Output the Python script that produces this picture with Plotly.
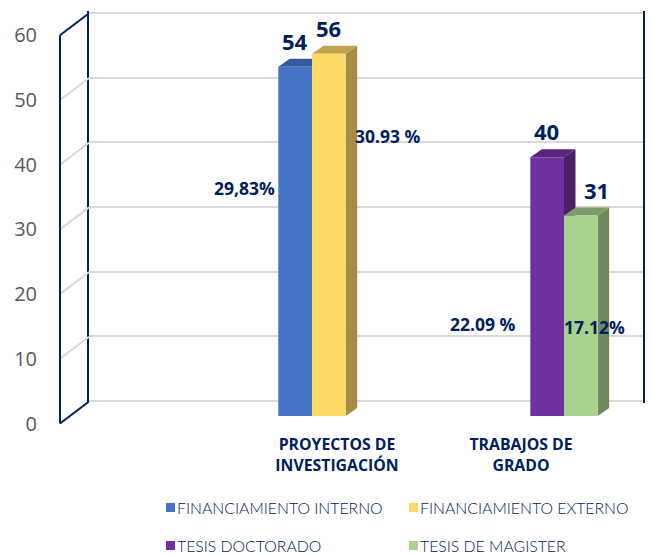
import plotly.graph_objects as go

categories = ["PROYECTOS DE<br>INVESTIGACIÓN", "TRABAJOS DE<br>GRADO"]
series_names = ["FINANCIAMIENTO INTERNO", "FINANCIAMIENTO EXTERNO", "TESIS DOCTORADO", "TESIS DE MAGISTER"]
series_values = [54, 56, 40, 31]
series_groups = [1, 1, 2, 2]
series_sides = [-1, 1, -1, 1]
percent_labels = ["29,83%", "30.93 %", "22.09 %", "17.12%"]
y_ticks = [0, 10, 20, 30, 40, 50, 60]

W, H = 652, 556
NAVY = "#002060"
FRONT = ["#4472C4", "#FFD966", "#7030A0", "#A9D18E"]
TOP = ["#365A9C", "#BFA34F", "#56267C", "#7F9D6B"]
SIDE = ["#2F4F87", "#A58D45", "#4A2068", "#6F8A5D"]

PX_PER_UNIT = 6.47
BAR_W = 33.7 / 252
DEPTH_X = 11.5 / 252
DEPTH_Y = 8 / PX_PER_UNIT
WALL_SHIFT = 22 / PX_PER_UNIT


def ydom(bottom, top):
    return [1 - bottom / H, 1 - top / H]


def pos(px, py):
    return dict(xref="paper", yref="paper", x=px / W, y=1 - py / H)


fig = go.Figure()

# empty trace so the back wall subplot gets drawn
fig.add_trace(go.Scatter(x=[0] * len(y_ticks), y=y_ticks, mode="none", showlegend=False,
                         hoverinfo="skip", xaxis="x", yaxis="y"))

# connectors between the back wall and the front axis, plus the front axis line
for tick in y_ticks:
    edge = tick in (0, 60)
    fig.add_trace(go.Scatter(
        x=[0, 1], y=[tick, tick + WALL_SHIFT], mode="lines",
        line=dict(color=NAVY if edge else "#D9D9D9", width=2),
        showlegend=False, hoverinfo="skip", xaxis="x2", yaxis="y2",
    ))
fig.add_trace(go.Scatter(
    x=[0, 0], y=[y_ticks[0], y_ticks[-1]], mode="lines", line=dict(color=NAVY, width=2),
    showlegend=False, hoverinfo="skip", xaxis="x2", yaxis="y2",
))

# top and side faces of the bars, in axis units
for i, value in enumerate(series_values):
    left = series_groups[i] + (BAR_W * -1 if series_sides[i] < 0 else 0)
    right = left + BAR_W
    fig.add_trace(go.Scatter(
        x=[right, right + DEPTH_X, right + DEPTH_X, right, right],
        y=[0, DEPTH_Y, value + DEPTH_Y, value, 0],
        mode="lines", fill="toself", fillcolor=SIDE[i], line=dict(width=0),
        showlegend=False, hoverinfo="skip", xaxis="x3", yaxis="y3",
    ))
    fig.add_trace(go.Scatter(
        x=[left, left + DEPTH_X, right + DEPTH_X, right, left],
        y=[value, value + DEPTH_Y, value + DEPTH_Y, value, value],
        mode="lines", fill="toself", fillcolor=TOP[i], line=dict(width=0),
        showlegend=False, hoverinfo="skip", xaxis="x3", yaxis="y3",
    ))

# front faces
for i, value in enumerate(series_values):
    fig.add_trace(go.Bar(
        x=[series_groups[i] + series_sides[i] * BAR_W / 2], y=[value], width=BAR_W,
        name=series_names[i], marker=dict(color=FRONT[i], line=dict(width=0)),
        showlegend=False, xaxis="x4", yaxis="y4",
    ))

x_range = [1 - 312 / 252, 2 + 88 / 252]
fig.update_layout(
    width=W, height=H, margin=dict(l=0, r=0, t=0, b=0, autoexpand=False),
    paper_bgcolor="white", plot_bgcolor="rgba(0,0,0,0)",
    barmode="overlay", hovermode=False, showlegend=False,
    # back wall with the gridlines
    xaxis=dict(domain=[89 / W, 643 / W], range=[0, 1], visible=False, anchor="y"),
    yaxis=dict(domain=ydom(403, 11), range=[-0.3, 60.3], tickvals=y_ticks, showticklabels=False,
               ticks="", showgrid=True, gridcolor="#D9D9D9", gridwidth=2, zeroline=False,
               showline=True, linecolor=NAVY, linewidth=2, mirror=True, anchor="x"),
    # strip between front axis and wall, carries the value labels
    xaxis2=dict(domain=[57 / W, 89 / W], range=[-3 / 29, 1], visible=False, anchor="y2"),
    yaxis2=dict(domain=ydom(425.5, 11.5), range=[-2 / PX_PER_UNIT, 412 / PX_PER_UNIT], tickvals=y_ticks,
                showgrid=False, zeroline=False, showline=False, ticks="outside",
                ticklen=15, tickcolor="rgba(0,0,0,0)",
                tickfont=dict(family="Open Sans", size=20, color="#595959"), anchor="x2"),
    # bars
    xaxis3=dict(domain=[0, 1], range=x_range, visible=False, anchor="y3"),
    yaxis3=dict(domain=ydom(416, 28), range=[0, 60], visible=False, anchor="x3"),
    xaxis4=dict(domain=[0, 1], range=x_range, anchor="y4", showgrid=False, zeroline=False,
                showline=False, tickmode="array", tickvals=[1 + 25 / 252, 2 - 43 / 252],
                ticktext=categories, ticks="outside", ticklen=14, tickcolor="rgba(0,0,0,0)",
                tickfont=dict(family="Open Sans", size=15.8, color=NAVY, weight="bold")),
    yaxis4=dict(domain=ydom(416, 28), range=[0, 60], visible=False, anchor="x4"),
)

# value labels sit above the bar tops
shifts = [0, 0, -1, 16]
for i, value in enumerate(series_values):
    fig.add_annotation(
        text=f"<b>{value}</b>", xref="x4", yref="y4",
        x=series_groups[i] + series_sides[i] * BAR_W / 2, y=value, xshift=shifts[i], yshift=9,
        yanchor="bottom", showarrow=False, font=dict(family="Open Sans", size=22, color=NAVY),
    )

percent_spots = [(244, 188), (388, 136), (483, 324), (594.5, 327)]
for text, (px, py) in zip(percent_labels, percent_spots):
    fig.add_annotation(text=f"<b>{text}</b>", showarrow=False, xanchor="center", yanchor="middle",
                       font=dict(family="Open Sans", size=17.5, color=NAVY), **pos(px, py))

# key below the chart
legend_spots = [(166, 507.5), (409, 507.5), (166, 545.5), (409, 545.5)]
for name, color, (px, py) in zip(series_names, FRONT, legend_spots):
    fig.add_shape(type="rect", xref="paper", yref="paper", x0=px / W, x1=(px + 9) / W,
                  y0=1 - (py - 4.5) / H, y1=1 - (py + 4.5) / H, fillcolor=color, line_width=0)
    fig.add_annotation(text=name, showarrow=False, xanchor="left", yanchor="middle", borderpad=0,
                       font=dict(family="Lato", size=15.8, weight=300, color=NAVY), **pos(px + 10, py))

fig.write_html("out.html", config={"displayModeBar": False},
               post_script="document.body.style.margin='0'")
